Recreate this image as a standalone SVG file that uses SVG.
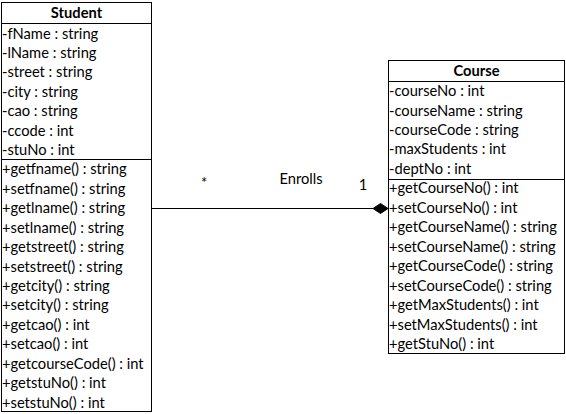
<svg xmlns="http://www.w3.org/2000/svg" width="566" height="414" viewBox="0 0 566 414">
<style>
.box{fill:#fff;stroke:#000;stroke-width:1}
.sep{stroke:#000;stroke-width:1}
text{font-family:Lato,"Open Sans","Liberation Sans",sans-serif;font-size:14.7px;fill:#000}
.title{font-weight:bold;text-anchor:middle}
.conn{stroke:#000;stroke-width:1;fill:none}
</style>
<rect width="566" height="414" fill="#fff"/>
<g id="connectors">
<line class="conn" x1="151.5" y1="208.5" x2="373" y2="208.5"/>
<polygon points="373,208.5 380.5,203.5 388,208.5 380.5,213.5" fill="#000" stroke="#000" stroke-width="1"/>
<text x="204" y="188" text-anchor="middle">*</text>
<text x="301" y="184" text-anchor="middle">Enrolls</text>
<text x="363" y="190" text-anchor="middle">1</text>
</g>
<g id="Student">
<rect class="box" x="1.5" y="2.5" width="150" height="409"/>
<line class="sep" x1="1.5" y1="23.5" x2="151.5" y2="23.5"/>
<line class="sep" x1="1.5" y1="159.5" x2="151.5" y2="159.5"/>
<text class="title" x="76.5" y="18">Student</text>
<text x="2" y="38.5">-fName : string</text>
<text x="2" y="57.9">-lName : string</text>
<text x="2" y="77.3">-street : string</text>
<text x="2" y="96.8">-city : string</text>
<text x="2" y="116.2">-cao : string</text>
<text x="2" y="135.6">-ccode : int</text>
<text x="2" y="155">-stuNo : int</text>
<text x="2" y="174.4">+getfname() : string</text>
<text x="2" y="193.9">+setfname() : string</text>
<text x="2" y="213.3">+getlname() : string</text>
<text x="2" y="232.7">+setlname() : string</text>
<text x="2" y="252.1">+getstreet() : string</text>
<text x="2" y="271.5">+setstreet() : string</text>
<text x="2" y="291">+getcity() : string</text>
<text x="2" y="310.4">+setcity() : string</text>
<text x="2" y="329.8">+getcao() : int</text>
<text x="2" y="349.2">+setcao() : int</text>
<text x="2" y="368.6">+getcourseCode() : int</text>
<text x="2" y="388.1">+getstuNo() : int</text>
<text x="2" y="407.5">+setstuNo() : int</text>
</g>
<g id="Course">
<rect class="box" x="388.5" y="60.5" width="176" height="293"/>
<line class="sep" x1="388.5" y1="81.5" x2="564.5" y2="81.5"/>
<line class="sep" x1="388.5" y1="179.5" x2="564.5" y2="179.5"/>
<text class="title" x="476.5" y="76">Course</text>
<text x="389" y="96">-courseNo : int</text>
<text x="389" y="115.5">-courseName : string</text>
<text x="389" y="134.9">-courseCode : string</text>
<text x="389" y="154.4">-maxStudents : int</text>
<text x="389" y="173.8">-deptNo : int</text>
<text x="389" y="193.3">+getCourseNo() : int</text>
<text x="389" y="212.8">+setCourseNo() : int</text>
<text x="389" y="232.2">+getCourseName() : string</text>
<text x="389" y="251.7">+setCourseName() : string</text>
<text x="389" y="271.1">+getCourseCode() : string</text>
<text x="389" y="290.6">+setCourseCode() : string</text>
<text x="389" y="310">+getMaxStudents() : int</text>
<text x="389" y="329.5">+setMaxStudents() : int</text>
<text x="389" y="349">+getStuNo() : int</text>
</g>
</svg>
